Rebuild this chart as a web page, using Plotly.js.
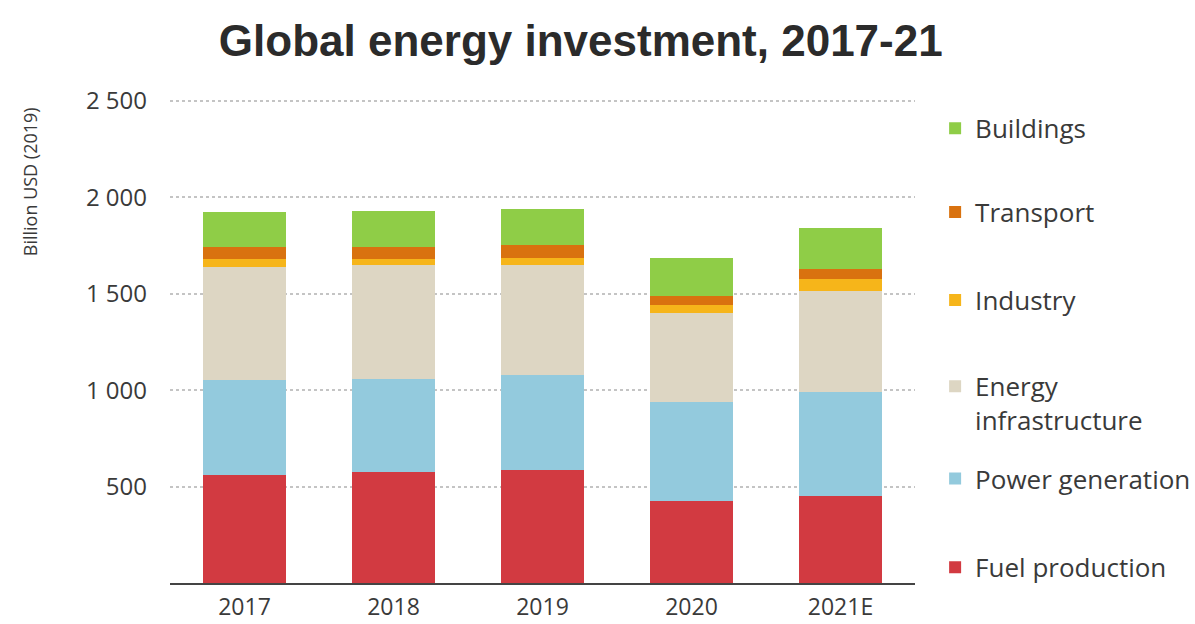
<!DOCTYPE html>
<html>
<head>
<meta charset="utf-8">
<script src="https://cdn.plot.ly/plotly-3.0.1.min.js"></script>
<style>html,body{margin:0;padding:0;background:#fff;}#chart{width:1195px;height:624px;}</style>
</head>
<body>
<div id="chart"></div>
<script>
const years = ["2017", "2018", "2019", "2020", "2021E"];
const fuelProduction = [560, 575, 585, 425, 452];
const powerGeneration = [492, 485, 493, 515, 537];
const energyInfrastructure = [588, 590, 570, 458, 527];
const industry = [38, 30, 36, 43, 60];
const transport = [62, 65, 67, 47, 52];
const buildings = [185, 185, 187, 200, 215];
const seriesNames = ["Fuel production", "Power generation", "Energy<br>infrastructure", "Industry", "Transport", "Buildings"];
const seriesColors = ["#d23a41", "#93cadd", "#ddd6c3", "#f6b51a", "#d9720f", "#8fcd47"];
const yTickVals = [500, 1000, 1500, 2000, 2500];
const yTickText = ["500", "1 000", "1 500", "2 000", "2 500"];

const seriesValues = [fuelProduction, powerGeneration, energyInfrastructure, industry, transport, buildings];
const legendY = [0.081, 0.264, 0.455, 0.633, 0.815, 0.988];
const legendIds = ["legend", "legend2", "legend3", "legend4", "legend5", "legend6"];

const traces = seriesValues.map((vals, i) => ({
  type: "bar",
  name: seriesNames[i],
  x: years,
  y: vals,
  marker: {color: seriesColors[i], line: {width: 0}},
  legend: legendIds[i],
  hoverinfo: "x+y+name"
}));

const layout = {
  width: 1195, height: 624,
  paper_bgcolor: "#fff", plot_bgcolor: "#fff",
  barmode: "stack",
  bargap: 0.44,
  margin: {l: 170, r: 280, t: 99, b: 41, autoexpand: false},
  font: {family: "Open Sans, Lato, sans-serif", color: "#3a3a3a"},
  title: {
    text: "<b>Global energy investment, 2017-21</b>",
    font: {family: "Liberation Sans, Arial, sans-serif", size: 44, color: "#2b2b2b"},
    xref: "container", yref: "container",
    x: 0.486, xanchor: "center", y: 0.935, yanchor: "middle"
  },
  xaxis: {
    type: "category",
    showgrid: false,
    showline: true, linecolor: "#444", linewidth: 2,
    ticks: "", tickfont: {size: 23, color: "#3a3a3a"},
    ticklabelstandoff: 2,
    fixedrange: true
  },
  yaxis: {
    range: [0, 2510],
    tickvals: yTickVals, ticktext: yTickText,
    tickfont: {size: 24, color: "#3a3a3a"},
    showgrid: true, gridcolor: "#c4c4c4", gridwidth: 2, griddash: "dot",
    zeroline: false, showline: false, ticks: "",
    ticklabelstandoff: 22,
    fixedrange: true
  },
  annotations: [{
    text: "Billion USD (2019)",
    xref: "paper", yref: "paper",
    x: -0.188, y: 0.83, xanchor: "center", yanchor: "middle",
    textangle: -90, showarrow: false,
    font: {size: 18, color: "#3a3a3a"}
  }],
  showlegend: true
};
legendIds.forEach((id, i) => {
  layout[id] = {
    x: 1.027, xanchor: "left",
    y: legendY[i], yanchor: "top",
    bgcolor: "rgba(0,0,0,0)",
    font: {size: 26, color: "#3a3a3a"},
    itemwidth: 30,
    valign: "top"
  };
});

Plotly.newPlot("chart", traces, layout, {displayModeBar: false, staticPlot: true});
</script>
</body>
</html>
